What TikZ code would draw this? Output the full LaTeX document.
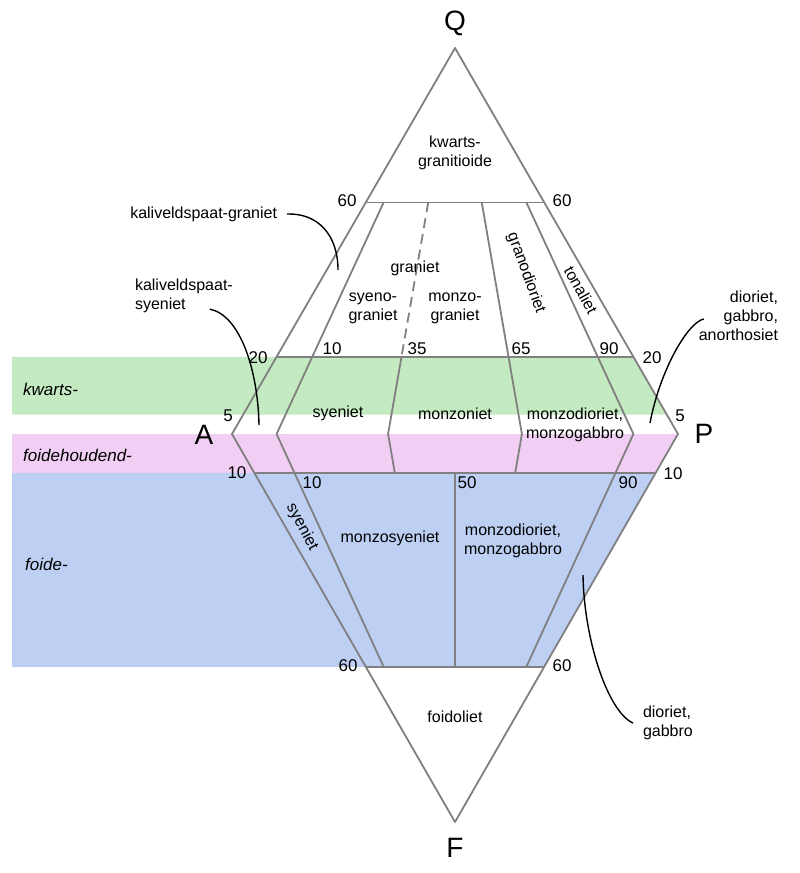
\documentclass[tikz,border=0pt]{standalone}
\usepackage{fontspec}
\setmainfont{Liberation Sans}
\usetikzlibrary{calc}
\definecolor{kwartsgroen}{RGB}{196,234,194}
\definecolor{foidroze}{RGB}{241,206,243}
\definecolor{foideblauw}{RGB}{189,208,243}
\begin{document}
\begin{tikzpicture}[x=1pt,y=-1pt,
    grens/.style={draw=gray, line width=1.8pt, line join=round},
    getal/.style={font=\fontsize{17}{20}\selectfont},
    hoek/.style={font=\fontsize{28}{32}\selectfont},
    naam/.style={font=\fontsize{16}{19}\selectfont, align=center},
    reeks/.style={font=\fontsize{17}{20}\selectfont\itshape, anchor=west, inner sep=0pt},
    uitleg/.style={font=\fontsize{16}{19}\selectfont, inner sep=0pt, outer xsep=10pt},
    lijn/.style={draw=black, line width=1.4pt}]
  \fill[white] (0,0) rectangle (800,873);
  \useasboundingbox (0,0) rectangle (800,873);
  % hoekpunten
  \coordinate (Q) at (455,48);
  \coordinate (A) at (232,434);
  \coordinate (P) at (678,434);
  \coordinate (F) at (455,822);
  % horizontale grenzen
  \coordinate (q60a) at ($(Q)!0.4!(A)$);
  \coordinate (q60p) at ($(Q)!0.4!(P)$);
  \coordinate (q20a) at ($(Q)!0.8!(A)$);
  \coordinate (q20p) at ($(Q)!0.8!(P)$);
  \coordinate (q5p) at ($(Q)!0.95!(P)$);
  \coordinate (f10a) at ($(A)!0.1!(F)$);
  \coordinate (f10p) at ($(P)!0.1!(F)$);
  \coordinate (f60a) at ($(A)!0.6!(F)$);
  \coordinate (f60p) at ($(P)!0.6!(F)$);
  % banden
  \fill[kwartsgroen] (12,356.8) -- (q20p) -- (q5p) -- (12,414.7) -- cycle;
  \fill[foidroze] (12,434) -- (P) -- (f10p) -- (12,472.8) -- cycle;
  \fill[foideblauw] (12,472.8) -- (f10p) -- (f60p) -- (12,666.8) -- cycle;
  % verhouding P/(A+P)
  \foreach \r/\n in {0.1/10,0.35/35,0.5/50,0.65/65,0.9/90}{
    \coordinate (b\n) at ($(A)!\r!(P)$);
    \coordinate (t\n) at ($(Q)!0.4!(b\n)$);
    \coordinate (m\n) at ($(Q)!0.8!(b\n)$);
    \coordinate (k\n) at ($(b\n)!0.1!(F)$);
    \coordinate (o\n) at ($(b\n)!0.6!(F)$);
  }
  \draw[grens] (Q) -- (A) -- (F) -- (P) -- cycle;
  \draw[grens] (q60a) -- (q60p) (q20a) -- (q20p) (f10a) -- (f10p) (f60a) -- (f60p);
  \draw[grens] (t10) -- (m10) -- (b10) -- (k10) -- (o10);
  \draw[grens, dash pattern=on 10pt off 6pt] (t35) -- (m35);
  \draw[grens] (m35) -- (b35) -- (k35);
  \draw[grens] (t65) -- (m65) -- (b65) -- (k65);
  \draw[grens] (t90) -- (m90) -- (b90) -- (k90) -- (o90);
  \draw[grens] (k50) -- (o50);
  % hoeken
  \node[hoek] (nQ) at (455,23) {Q};
  \node[hoek] (nA) at (204,435) {A};
  \node[hoek] (nP) at (704,434) {P};
  \node[hoek] (nF) at (455,848) {F};
  % getallen
  \node[getal] (g60a) at (347,201) {60};
  \node[getal] (g60p) at (562,201) {60};
  \node[getal] (g20a) at (258,358) {20};
  \node[getal] (g20p) at (652,358) {20};
  \node[getal] (g10) at (332,349) {10};
  \node[getal] (g35) at (417,349) {35};
  \node[getal] (g65) at (521,349) {65};
  \node[getal] (g90) at (609,349) {90};
  \node[getal] (g5a) at (228,416) {5};
  \node[getal] (g5p) at (680,416) {5};
  \node[getal] (f10l) at (237,473) {10};
  \node[getal] (f10r) at (673,474) {10};
  \node[getal] (h10) at (312,483) {10};
  \node[getal] (h50) at (467,483) {50};
  \node[getal] (h90) at (628,483) {90};
  \node[getal] (f60l) at (348,666) {60};
  \node[getal] (f60r) at (562,666) {60};
  % velden
  \node[naam] (kg) at (455,153) {kwarts-\\granitioide};
  \node[naam] (gr) at (415,268) {graniet};
  \node[naam] (sg) at (373,308) {syeno-\\graniet};
  \node[naam] (mg) at (455,308) {monzo-\\graniet};
  \node[naam, rotate=-70] (gd) at (526,273) {granodioriet};
  \node[naam, rotate=-61] (to) at (581,290) {tonaliet};
  \node[naam] (sy) at (338,413) {syeniet};
  \node[naam] (mz) at (455,414) {monzoniet};
  \node[naam] (md) at (575,425) {monzodioriet,\\monzogabbro};
  \node[naam, rotate=-62] (fs) at (302,527) {syeniet};
  \node[naam] (ms) at (390,538) {monzosyeniet};
  \node[naam] (fm) at (513,541) {monzodioriet,\\monzogabbro};
  \node[naam] (fo) at (455,717) {foidoliet};
  % reeksen
  \node[reeks] (rk) at (23,389) {kwarts-};
  \node[reeks] (rh) at (23,455) {foidehoudend-};
  \node[reeks] (rf) at (25,564) {foide-};
  % verwijzingen
  \node[uitleg, anchor=east] (kgr) at (287,214) {kaliveldspaat-graniet};
  \node[uitleg, anchor=west, align=left] (kss) at (125,296) {kaliveldspaat-\\syeniet};
  \node[uitleg, anchor=east, align=right] (dga) at (788,316) {dioriet,\\gabbro,\\anorthosiet};
  \node[uitleg, anchor=west, align=left] (dg) at (633,723) {dioriet,\\gabbro};
  \coordinate (kgrEind) at (338,270);
  \coordinate (kssEind) at (259,425);
  \coordinate (dgaEind) at (650,423);
  \coordinate (dgEind) at (583,575);
  \draw[lijn] (kgr.east) .. controls (318,213) and (338,235) .. (kgrEind);
  \draw[lijn] ($(kss.south east)+(-33,-4)$) .. controls (240,315) and (258,370) .. (kssEind);
  \draw[lijn] ($(dga.west)+(15,3)$) .. controls (688,322) and (660,370) .. (dgaEind);
  \draw[lijn] (dg.west) .. controls (608,712) and (584,640) .. (dgEind);
\end{tikzpicture}
\end{document}
